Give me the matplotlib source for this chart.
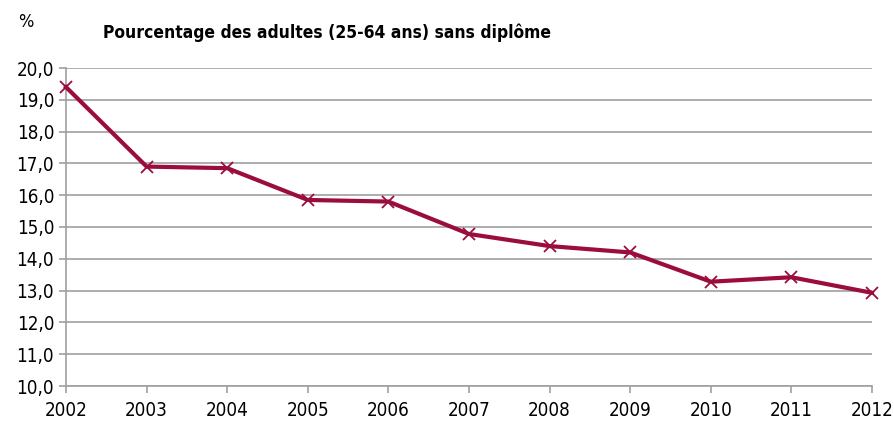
import matplotlib
matplotlib.use("Agg")
import matplotlib.pyplot as plt
from matplotlib.ticker import FuncFormatter

annees = [2002, 2003, 2004, 2005, 2006, 2007, 2008, 2009, 2010, 2011, 2012]
sans_diplome = [19.4, 16.9, 16.85, 15.85, 15.8, 14.78, 14.4, 14.2, 13.28, 13.42, 12.93]

# police etroite pour ressembler a l original
plt.rcParams['font.family'] = ['DejaVu Sans']
plt.rcParams['font.stretch'] = 'condensed'

fig = plt.figure(figsize=(8.95, 4.23), dpi=100)
ax = fig.add_axes([66/895, 1 - 386/423, (872 - 66)/895, (386 - 68)/423])

ax.plot(annees, sans_diplome, color='#9b0d3a', lw=3, marker='x', ms=8,
        mew=1.3, clip_on=False, zorder=3)

ax.set_xlim(2002, 2012)
ax.set_ylim(10, 20)
ax.set_xticks(annees)
ax.set_yticks(range(10, 21))
ax.yaxis.set_major_formatter(FuncFormatter(lambda v, p: f"{v:.1f}".replace('.', ',')))
ax.grid(axis='y', color='#a0a0a0', lw=1.2)
ax.set_axisbelow(True)
for s in ['top', 'right']:
    ax.spines[s].set_visible(False)
for s in ['left', 'bottom']:
    ax.spines[s].set_color('#a0a0a0')
    ax.spines[s].set_linewidth(1.2)
ax.tick_params(axis='both', colors='#a0a0a0', labelcolor='black', labelsize=13.5, length=5, width=1.2)
ax.tick_params(axis='x', pad=6)

fig.text(18/895, 1 - 22/423, '%', fontsize=13, va='center')
fig.text(103/895, 1 - 33/423, 'Pourcentage des adultes (25-64 ans) sans diplôme',
         fontsize=12.5, fontweight='bold', va='center')

fig.savefig('out.png', dpi=100)
